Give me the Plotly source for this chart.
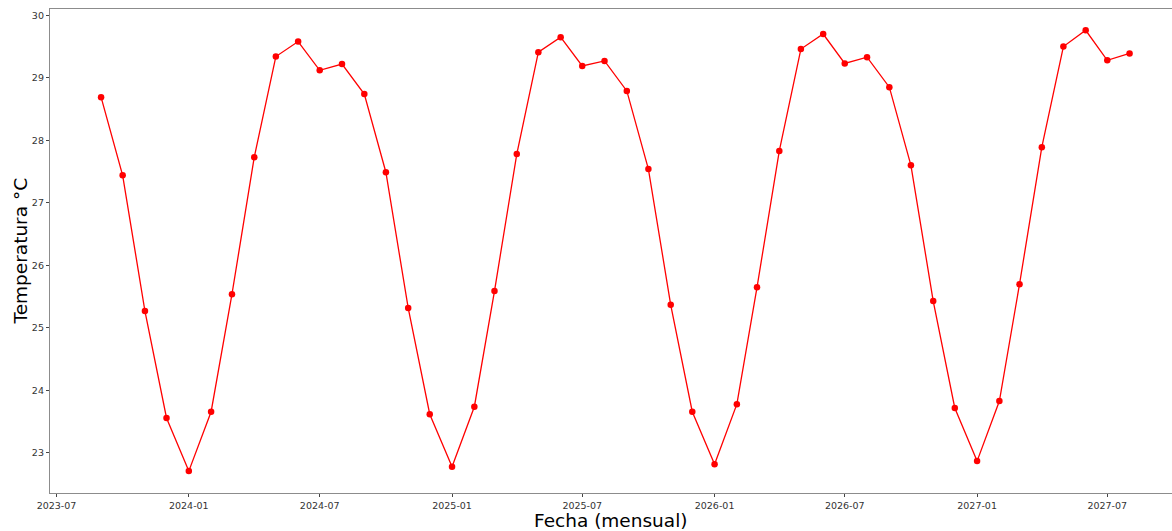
import pandas as pd
import plotly.graph_objects as go

# Monthly mean temperature, Sep 2023 - Aug 2027
fechas = pd.date_range("2023-09-01", "2027-08-01", freq="MS")
temperatura = [
    28.69, 27.44, 25.27, 23.56,                      # 2023-09 .. 2023-12
    22.71, 23.66, 25.54, 27.73, 29.34, 29.58,        # 2024-01 .. 2024-06
    29.12, 29.22, 28.74, 27.49, 25.32, 23.62,        # 2024-07 .. 2024-12
    22.78, 23.74, 25.59, 27.78, 29.41, 29.65,        # 2025-01 .. 2025-06
    29.19, 29.27, 28.79, 27.54, 25.37, 23.66,        # 2025-07 .. 2025-12
    22.82, 23.78, 25.65, 27.83, 29.46, 29.70,        # 2026-01 .. 2026-06
    29.23, 29.33, 28.85, 27.60, 25.43, 23.72,        # 2026-07 .. 2026-12
    22.87, 23.83, 25.70, 27.89, 29.50, 29.76,        # 2027-01 .. 2027-06
    29.28, 29.39,                                    # 2027-07 .. 2027-08
]

fig = go.Figure(
    go.Scatter(
        x=fechas,
        y=temperatura,
        mode="lines+markers",
        line=dict(color="#ff0000", width=1.3),
        marker=dict(color="#ff0000", size=6.5),
        name="Temperatura",
    )
)

tick_font = dict(family="DejaVu Sans", size=9.5, color="#333333")
title_font = dict(family="DejaVu Sans", size=18.5, color="black")

fig.update_layout(
    width=1172,
    height=531,
    margin=dict(l=50, r=0, t=9, b=38),
    paper_bgcolor="white",
    plot_bgcolor="white",
    showlegend=False,
    font=dict(family="DejaVu Sans"),
    xaxis=dict(
        range=["2023-06-22", "2027-09-29"],
        tick0="2023-07-01",
        dtick="M6",
        tickformat="%Y-%m",
        ticks="outside",
        ticklen=3,
        tickcolor="#444444",
        tickfont=tick_font,
        showgrid=False,
        zeroline=False,
        showline=True,
        mirror=True,
        linecolor="#8c8c8c",
        linewidth=1.3,
        automargin=False,
    ),
    yaxis=dict(
        range=[22.36, 30.1],
        tickvals=[23, 24, 25, 26, 27, 28, 29, 30],
        ticks="outside",
        ticklen=3,
        tickcolor="#444444",
        tickfont=tick_font,
        showgrid=False,
        zeroline=False,
        showline=True,
        linecolor="#8c8c8c",
        linewidth=1.3,
        automargin=False,
    ),
    annotations=[
        dict(
            text="Fecha (mensual)",
            xref="paper", yref="paper",
            x=0.5, y=0, yshift=-15,
            xanchor="center", yanchor="top",
            showarrow=False,
            font=title_font,
        ),
        dict(
            text="Temperatura °C",
            xref="paper", yref="paper",
            x=0, y=0.5, xshift=-18,
            xanchor="right", yanchor="middle",
            textangle=-90,
            showarrow=False,
            font=title_font,
        ),
    ],
)

fig.write_html("out.html")
